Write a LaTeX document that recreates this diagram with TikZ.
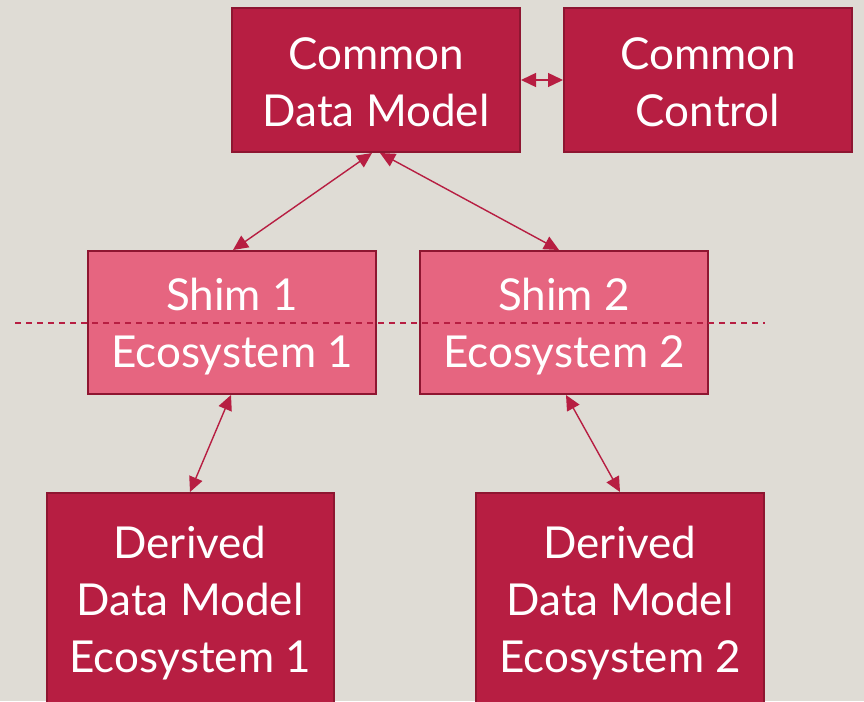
\documentclass[tikz,border=0pt]{standalone}
\usepackage{fontspec}
\setmainfont{Lato}
\usetikzlibrary{arrows.meta}
\definecolor{bg}{HTML}{DFDCD5}
\definecolor{dark}{HTML}{B71E42}
\definecolor{darkline}{HTML}{8E1631}
\definecolor{light}{HTML}{E66580}
\tikzset{
  darkbox/.style={draw=darkline, line width=1.6pt, fill=dark, text=white, align=center, inner sep=0pt},
  lightbox/.style={draw=darkline, line width=1.6pt, fill=light, text=white, align=center, inner sep=0pt},
  link/.style={draw=dark, line width=1.4pt, {Triangle[length=15pt,width=14pt]}-{Triangle[length=15pt,width=14pt]}},
  lbl/.style={font=\fontsize{44}{57}\selectfont, text=white, align=center}
}
\begin{document}
\begin{tikzpicture}[x=1pt,y=-1pt]
\useasboundingbox (0,0) rectangle (864,701);
\clip (0,0) rectangle (864,701);
\fill[bg] (0,0) rectangle (864,701);
% boxes
\draw[darkbox] (232,8) rectangle (520,152);
\node[lbl] (cdm) at (376,82) {Common\\Data Model};
\draw[darkbox] (564,8) rectangle (852,152);
\node[lbl] (cc) at (708,82) {Common\\Control};
\draw[lightbox] (88,251) rectangle (376,394);
\node[lbl] (s1) at (232,327) {Shim 1\\Ecosystem 1};
\draw[lightbox] (420,251) rectangle (708,394);
\node[lbl] (s2) at (564,327) {Shim 2\\Ecosystem 2};
\draw[darkbox] (47,493) rectangle (334,740);
\node[lbl] (d1) at (190,603) {Derived\\Data Model\\Ecosystem 1};
\draw[darkbox] (476,493) rectangle (764,740);
\node[lbl] (d2) at (620,603) {Derived\\Data Model\\Ecosystem 2};
% anchor coordinates
\coordinate (cdmR) at (521,80);
\coordinate (ccL) at (563,80);
\coordinate (cdmB1) at (372,153);
\coordinate (cdmB2) at (380,153);
\coordinate (s1T) at (233,250);
\coordinate (s2T) at (559,250);
\coordinate (s1B) at (231,395);
\coordinate (s2B) at (566,395);
\coordinate (d1T) at (190,492);
\coordinate (d2T) at (620,492);
\coordinate (dl) at (15,323);
\coordinate (dr) at (765,323);
% dashed line
\draw[dark, line width=1.2pt, dash pattern=on 6pt off 5pt] (dl) -- (dr);
% connectors
\draw[link] (cdmR) -- (ccL);
\draw[link] (cdmB1) -- (s1T);
\draw[link] (cdmB2) -- (s2T);
\draw[link] (s1B) -- (d1T);
\draw[link] (s2B) -- (d2T);
\end{tikzpicture}
\end{document}
